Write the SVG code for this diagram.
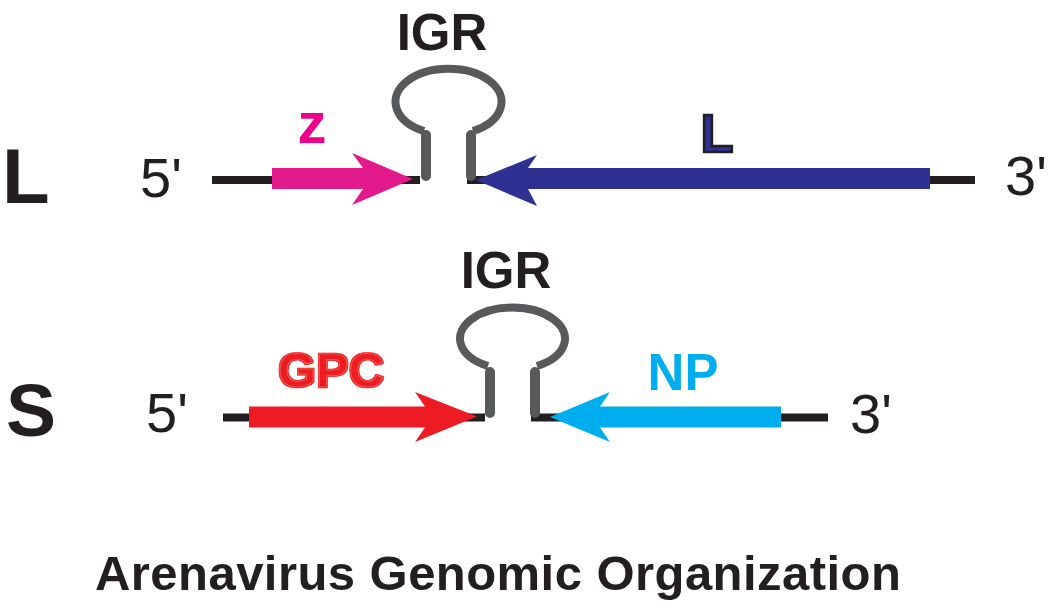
<svg xmlns="http://www.w3.org/2000/svg" width="1050" height="608" viewBox="0 0 1050 608">
<style>
.b{font-family:"Liberation Sans",Arial,sans-serif;font-weight:bold}
.r{font-family:"Liberation Sans",Arial,sans-serif;font-weight:normal;fill:#231F20}
.k{fill:#231F20}
.line{stroke:#231F20;stroke-width:8;fill:none}
.stem{stroke:#58595B;stroke-width:10;stroke-linecap:round;fill:none}
.loop{stroke:#58595B;stroke-width:8;fill:none}
</style>
<defs>
<filter id="redout" x="-10%" y="-20%" width="120%" height="140%">
<feMorphology in="SourceAlpha" operator="dilate" radius="1.3" result="d"/>
<feFlood flood-color="#ED1C24"/>
<feComposite in2="d" operator="in" result="o"/>
<feMerge><feMergeNode in="o"/><feMergeNode in="SourceGraphic"/></feMerge>
</filter>
</defs>
<rect width="1050" height="608" fill="#ffffff"/>

<g id="labels-left">
<text class="b k" x="2" y="203" font-size="78">L</text>
<text class="b k" x="6" y="436" font-size="75">S</text>
<text class="r" x="140" y="197" font-size="56">5'</text>
<text class="r" x="146" y="432" font-size="56">5'</text>
<text class="r" x="1005" y="195" font-size="56">3'</text>
<text class="r" x="850" y="433" font-size="56">3'</text>
</g>

<g id="connectors">
<path class="line" d="M212,180 H420 M467,180 H975"/>
<path class="line" d="M223,417.5 H485 M531,417.5 H828"/>
</g>

<g id="igr-L">
<path class="loop" d="M424,131 A53,33 0 1 1 473,131"/>
<path class="stem" d="M426,176 V135 M471,176 V135"/>
<text class="b k" x="442" y="50" font-size="51" text-anchor="middle">IGR</text>
</g>

<g id="gene-Z">
<path fill="#E21A8C" d="M272,168 H363 L352,153 L413,179 L352,205 L363,189 H272 Z"/>
<text class="b" x="312" y="143" font-size="58" text-anchor="middle" fill="#EC008C">z</text>
</g>

<g id="gene-L">
<path fill="#2E3192" d="M930,168 H528 L537,155 L476,180 L537,206 L528,189 H930 Z"/>
<text class="b" x="717" y="152" font-size="54" text-anchor="middle" fill="#2E3192" stroke="#231F20" stroke-width="2.6">L</text>
</g>

<g id="igr-S">
<path class="loop" d="M488,366 A52.5,31 0 1 1 537,366"/>
<path class="stem" d="M490,413 V372 M535,413 V372"/>
<text class="b k" x="506" y="288" font-size="51" text-anchor="middle">IGR</text>
</g>

<g id="gene-GPC">
<path fill="#ED1C24" d="M249,406.5 H425 L415,392 L477,416.5 L415,442 L425,427.5 H249 Z"/>
<text class="b" x="331" y="387" font-size="49" text-anchor="middle" fill="#ED1C24" stroke="#F26A58" stroke-width="0.7" filter="url(#redout)">GPC</text>
</g>

<g id="gene-NP">
<path fill="#00AEEF" d="M781,406.5 H600 L610,392 L550,417 L610,442 L600,427.5 H781 Z"/>
<text class="b" x="683" y="390" font-size="51" text-anchor="middle" fill="#00AEEF">NP</text>
</g>

<g id="title">
<text class="b k" x="95" y="590" font-size="49" letter-spacing="0.45">Arenavirus Genomic Organization</text>
</g>
</svg>
